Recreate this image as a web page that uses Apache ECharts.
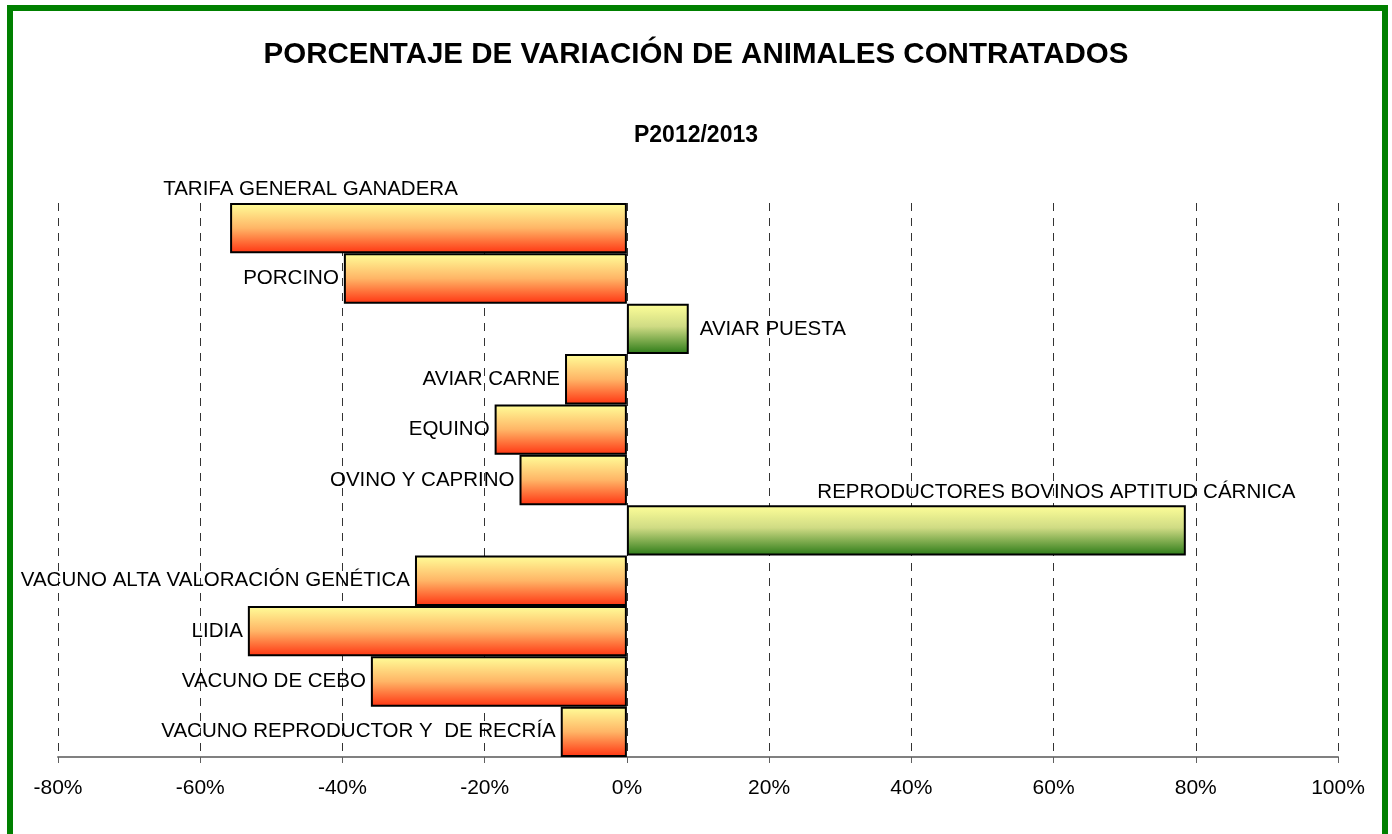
<!DOCTYPE html>
<html>
<head>
<meta charset="utf-8">
<script src="https://cdn.jsdelivr.net/npm/echarts@6/dist/echarts.min.js"></script>
<style>
html,body{margin:0;padding:0;background:#fff;}
#frame{position:absolute;left:7px;top:5px;width:1381px;height:840px;box-sizing:border-box;border:6px solid #008000;}
#chart{position:absolute;left:0;top:0;width:1392px;height:834px;}
</style>
</head>
<body>
<div id="frame"></div>
<div id="chart"></div>
<script>
const categories = [
  'TARIFA GENERAL GANADERA',
  'PORCINO',
  'AVIAR PUESTA',
  'AVIAR CARNE',
  'EQUINO',
  'OVINO Y CAPRINO',
  'REPRODUCTORES BOVINOS APTITUD CÁRNICA',
  'VACUNO ALTA VALORACIÓN GENÉTICA',
  'LIDIA',
  'VACUNO DE CEBO',
  'VACUNO REPRODUCTOR Y  DE RECRÍA'
];
const values = [-55.8, -39.8, 8.7, -8.7, -18.6, -15.1, 78.6, -29.8, -53.3, -36.0, -9.3];
const xTicks = { min: -80, max: 100, interval: 20 };
const titleText = 'PORCENTAJE DE VARIACIÓN DE ANIMALES CONTRATADOS';
const subtitleText = 'P2012/2013';

const FONT = 'Liberation Sans, Arial, sans-serif';
const redGrad = new echarts.graphic.LinearGradient(0, 0, 0, 1, [
  { offset: 0, color: '#FFFF99' },
  { offset: 0.5, color: '#FFB566' },
  { offset: 1, color: '#FF3311' }
]);
const greenGrad = new echarts.graphic.LinearGradient(0, 0, 0, 1, [
  { offset: 0, color: '#FFFF99' },
  { offset: 0.45, color: '#CFDB84' },
  { offset: 1, color: '#2A7A16' }
]);

const labelOverrides = {
  0: { position: 'top', distance: 3, offset: [-118, 0] },
  2: { distance: 11 },
  6: { position: 'top', distance: 2, offset: [150, 0] }
};

const seriesData = values.map((v, i) => {
  const d = {
    value: v,
    itemStyle: { color: v >= 0 ? greenGrad : redGrad }
  };
  if (labelOverrides[i]) d.label = labelOverrides[i];
  return d;
});

const chart = echarts.init(document.getElementById('chart'), null, { renderer: 'canvas' });
chart.setOption({
  animation: false,
  backgroundColor: 'transparent',
  title: [
    { text: titleText, left: 'center', top: 35, textStyle: { fontFamily: FONT, fontWeight: 'bold', fontSize: 29.5, color: '#000' } },
    { text: subtitleText, left: 'center', top: 119, textStyle: { fontFamily: FONT, fontWeight: 'bold', fontSize: 23, color: '#000' } }
  ],
  grid: { left: 58, right: 54, top: 203, bottom: 77, containLabel: false },
  xAxis: {
    type: 'value',
    min: xTicks.min, max: xTicks.max, interval: xTicks.interval,
    axisLine: { show: true, onZero: false, lineStyle: { color: '#808080', width: 2 } },
    axisTick: { show: true, length: 6, lineStyle: { color: '#606060', width: 1 } },
    axisLabel: { formatter: '{value}%', margin: 21, fontFamily: FONT, fontSize: 21, color: '#000' },
    splitLine: { show: true, lineStyle: { color: '#333', width: 1, type: [8, 7] } }
  },
  yAxis: {
    type: 'category',
    data: categories,
    inverse: true,
    axisLine: { show: false },
    axisTick: { show: false },
    axisLabel: { show: false },
    splitLine: { show: false }
  },
  series: [{
    type: 'bar',
    data: seriesData,
    barCategoryGap: '0%',
    barWidth: '100%',
    itemStyle: { borderColor: '#000', borderWidth: 2 },
    label: {
      show: true,
      position: 'outside',
      distance: 5,
      formatter: p => categories[p.dataIndex],
      fontFamily: FONT,
      fontSize: 20.5,
      color: '#000'
    }
  }]
});
</script>
</body>
</html>
